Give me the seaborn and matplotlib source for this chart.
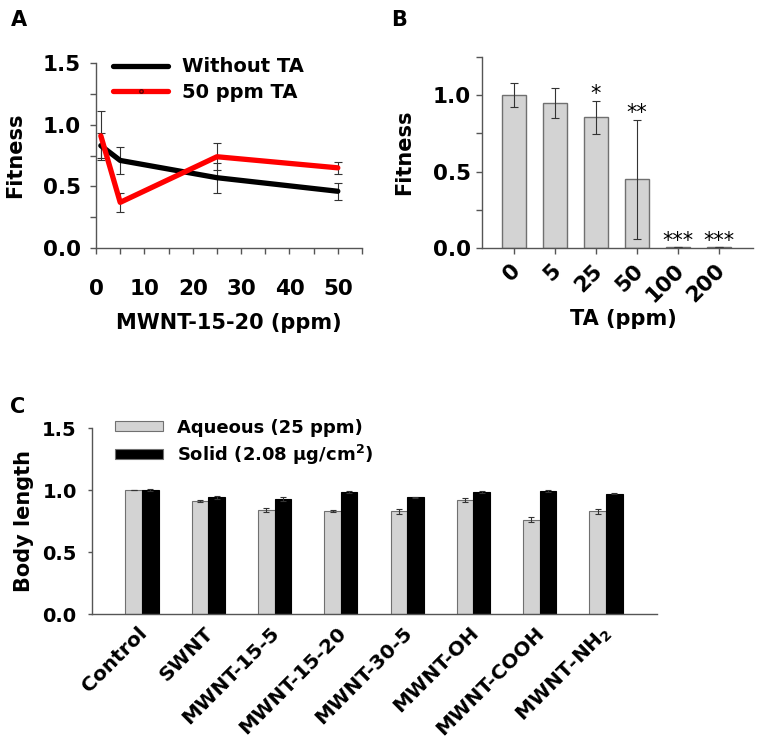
import numpy as np
import pandas as pd
import matplotlib
matplotlib.use("Agg")
import matplotlib.pyplot as plt
import matplotlib.transforms as mtransforms
import seaborn as sns
from matplotlib.ticker import MultipleLocator
from matplotlib.lines import Line2D

# ---------------- data ----------------
# Panel A
a_conc = [1, 5, 25, 50]
a_without = [0.83, 0.71, 0.57, 0.46]
a_without_err = [0.10, 0.11, 0.12, 0.07]
a_with = [0.91, 0.37, 0.74, 0.65]
a_with_err = [0.20, 0.08, 0.11, 0.05]
a_series = ["Without TA", "50 ppm TA"]

# Panel B
b_cats = ["0", "5", "25", "50", "100", "200"]
b_vals = [1.00, 0.95, 0.855, 0.45, 0.005, 0.005]
b_err = [0.08, 0.10, 0.11, 0.39, 0.0, 0.0]
b_stars = ["", "", "*", "**", "***", "***"]

# Panel C
c_cats = ["Control", "SWNT", "MWNT-15-5", "MWNT-15-20", "MWNT-30-5",
          "MWNT-OH", "MWNT-COOH", "MWNT-NH$_2$"]
c_aq = [1.00, 0.91, 0.84, 0.83, 0.83, 0.92, 0.76, 0.83]
c_aq_err = [0.004, 0.01, 0.015, 0.01, 0.02, 0.015, 0.02, 0.02]
c_sol = [1.00, 0.94, 0.93, 0.98, 0.94, 0.98, 0.99, 0.97]
c_sol_err = [0.006, 0.01, 0.015, 0.008, 0.006, 0.008, 0.01, 0.006]
c_series = ["Aqueous (25 ppm)", "Solid (2.08 \u03bcg/cm$^2$)"]

# ---------------- style ----------------
sns.set_style("ticks")
plt.rcParams["font.family"] = ["DejaVu Sans"]
plt.rcParams["font.weight"] = "bold"
plt.rcParams["axes.labelweight"] = "bold"
plt.rcParams["text.color"] = "black"
plt.rcParams["axes.labelcolor"] = "black"
plt.rcParams["xtick.labelcolor"] = "black"
plt.rcParams["ytick.labelcolor"] = "black"
plt.rcParams["mathtext.fontset"] = "custom"
plt.rcParams["mathtext.rm"] = "DejaVu Sans:bold"
plt.rcParams["mathtext.it"] = "DejaVu Sans:bold"
plt.rcParams["mathtext.bf"] = "DejaVu Sans:bold"

TICK = 15.5
LAB = 15
spine_col = "#555555"
fig = plt.figure(figsize=(7.62, 7.47), dpi=100)
W, H = 762, 747

def fpos(l, r, t, b):
    return [l / W, 1 - b / H, (r - l) / W, (b - t) / H]

axA = fig.add_axes(fpos(96, 362, 63, 248))
axB = fig.add_axes(fpos(482, 753, 57, 248))
axC = fig.add_axes(fpos(92, 657, 428, 614))

def style_ax(ax, length=4):
    sns.despine(ax=ax)
    for s in ("left", "bottom"):
        ax.spines[s].set_color(spine_col)
        ax.spines[s].set_linewidth(1.0)
    ax.tick_params(which="both", color=spine_col, labelcolor="black",
                   width=1.0, length=length)

def rot_labels(ax, dx_px):
    off = mtransforms.ScaledTranslation(dx_px / 100, 0, fig.dpi_scale_trans)
    for lab in ax.get_xticklabels():
        lab.set_rotation(45)
        lab.set_ha("right")
        lab.set_va("center")
        lab.set_rotation_mode("anchor")
        lab.set_transform(lab.get_transform() + off)

# ---------------- Panel A ----------------
dfA = pd.DataFrame({
    "conc": a_conc * 2,
    "fit": a_without + a_with,
    "series": [a_series[0]] * 4 + [a_series[1]] * 4,
})
sns.lineplot(data=dfA, x="conc", y="fit", hue="series", ax=axA,
             palette={a_series[0]: "black", a_series[1]: "#ff0000"},
             linewidth=3.8, legend=False, errorbar=None)
axA.errorbar(a_conc, a_without, yerr=a_without_err, fmt="none",
             ecolor="#333333", elinewidth=0.8, capsize=3, capthick=0.8, zorder=1)
axA.errorbar(a_conc, a_with, yerr=a_with_err, fmt="none",
             ecolor="#333333", elinewidth=0.8, capsize=3, capthick=0.8, zorder=1)
axA.set_xlim(0, 55)
axA.set_ylim(0, 1.5)
axA.xaxis.set_major_locator(MultipleLocator(10))
axA.xaxis.set_minor_locator(MultipleLocator(5))
axA.set_yticks([0, 0.5, 1.0, 1.5])
axA.set_yticklabels(["0.0", "0.5", "1.0", "1.5"])
axA.yaxis.set_minor_locator(MultipleLocator(0.25))
style_ax(axA)
axA.tick_params(axis="x", labelsize=TICK, pad=18)
axA.tick_params(axis="y", labelsize=TICK, pad=7)
axA.set_xlabel("MWNT-15-20 (ppm)", fontsize=LAB, va="top")
axA.xaxis.set_label_coords(0.5, -0.35)
axA.set_ylabel("Fitness", fontsize=LAB)
axA.yaxis.set_label_coords(-0.265, 0.5)
hA = [Line2D([], [], color="black", lw=3.8),
      Line2D([], [], color="#ff0000", lw=3.8, marker="o", markersize=2.5,
             markerfacecolor="#ff0000", markeredgecolor="#600000")]
axA.legend(hA, a_series, loc="upper left", bbox_to_anchor=(0.064, 1.03),
           frameon=False, fontsize=14, handlelength=2.84, handletextpad=0.72,
           labelspacing=0.33, borderaxespad=0, borderpad=0)
fig.text(11 / W, 1 - 20 / H, "A", fontsize=15, fontweight="bold", va="center")

# ---------------- Panel B ----------------
dfB = pd.DataFrame({"ta": b_cats, "fit": b_vals})
sns.barplot(data=dfB, x="ta", y="fit", ax=axB, color="#d3d3d3", saturation=1,
            width=0.6, edgecolor="#707070", linewidth=1.0, errorbar=None)
xb = np.arange(len(b_cats))
axB.errorbar(xb, b_vals, yerr=b_err, fmt="none", ecolor="#333333",
             elinewidth=0.8, capsize=3, capthick=0.8)
for xi, v, e, s in zip(xb, b_vals, b_err, b_stars):
    if s:
        axB.annotate(s, (xi, v + e), xytext=(0, 0.5), textcoords="offset points",
                     ha="center", va="baseline", fontsize=15, fontweight="normal",
                     color="black")
axB.set_xlim(-0.78, 5.83)
axB.set_ylim(0, 1.25)
axB.set_yticks([0, 0.5, 1.0])
axB.set_yticklabels(["0.0", "0.5", "1.0"])
axB.yaxis.set_minor_locator(MultipleLocator(0.25))
style_ax(axB)
axB.tick_params(axis="x", labelsize=TICK, pad=10)
axB.tick_params(axis="y", labelsize=TICK, pad=4)
rot_labels(axB, 3)
axB.set_xlabel("TA (ppm)", fontsize=LAB, va="top")
axB.xaxis.set_label_coords(0.52, -0.32)
axB.set_ylabel("Fitness", fontsize=LAB)
axB.yaxis.set_label_coords(-0.251, 0.5)
fig.text(391 / W, 1 - 20 / H, "B", fontsize=15, fontweight="bold", va="center")

# ---------------- Panel C ----------------
dfC = pd.DataFrame({
    "cat": c_cats * 2,
    "len": c_aq + c_sol,
    "series": [c_series[0]] * 8 + [c_series[1]] * 8,
})
sns.barplot(data=dfC, x="cat", y="len", hue="series", ax=axC,
            palette={c_series[0]: "#d3d3d3", c_series[1]: "black"},
            saturation=1, width=0.5, errorbar=None, edgecolor="#707070",
            linewidth=0.8, legend=True)
for cont, err in zip(axC.containers, [c_aq_err, c_sol_err]):
    xs = [p.get_x() + p.get_width() / 2 for p in cont]
    hs = [p.get_height() for p in cont]
    axC.errorbar(xs, hs, yerr=err, fmt="none", ecolor="#333333", elinewidth=0.8,
                 capsize=2.5, capthick=0.8)
for p in axC.containers[1]:
    p.set_edgecolor("black")
axC.set_xlim(-0.755, 7.77)
axC.set_ylim(0, 1.5)
axC.set_yticks([0, 0.5, 1.0, 1.5])
axC.set_yticklabels(["0.0", "0.5", "1.0", "1.5"])
style_ax(axC, length=3)
axC.tick_params(axis="x", length=0, labelsize=14.5, pad=11.5)
axC.tick_params(axis="y", labelsize=14, pad=8)
rot_labels(axC, 2)
axC.set_xlabel("")
axC.set_ylabel("Body length", fontsize=LAB)
axC.yaxis.set_label_coords(-0.103, 0.5)
leg = axC.legend(loc="upper left", bbox_to_anchor=(0.041, 1.051), frameon=False,
                 fontsize=13, handlelength=2.66, handleheight=0.44,
                 handletextpad=0.78, labelspacing=0.33, borderaxespad=0,
                 borderpad=0)
for t in leg.get_texts():
    t.set_fontweight("bold")
    t.set_color("black")
fig.text(10 / W, 1 - 407 / H, "C", fontsize=15, fontweight="bold", va="center")

fig.savefig("out.png", dpi=100)
